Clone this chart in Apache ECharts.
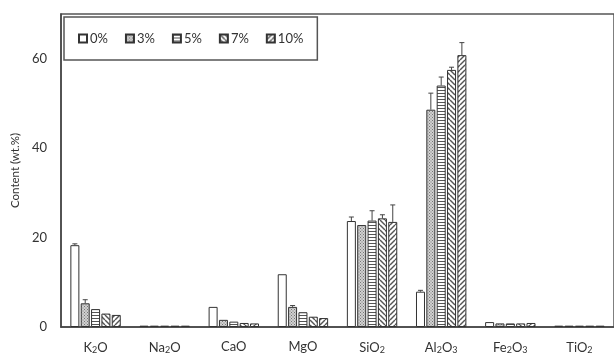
<!DOCTYPE html>
<html><head><meta charset="utf-8">
<script src="https://cdn.jsdelivr.net/npm/echarts@6/dist/echarts.min.js"></script>
<style>html,body{margin:0;padding:0;background:#fff}#c{width:614px;height:355px}</style>
</head><body><div id="c"></div>
<script>
const categories = ['K{s|2}O','Na{s|2}O','CaO','MgO','SiO{s|2}','Al{s|2}O{s|3}','Fe{s|2}O{s|3}','TiO{s|2}'];
const seriesNames = ['0%','3%','5%','7%','10%'];
const v0  = [18.3, 0.3, 4.5, 11.8, 23.7, 7.9, 1.1, 0.3];
const v3  = [5.3, 0.3, 1.6, 4.5, 22.8, 48.6, 0.8, 0.3];
const v5  = [4.0, 0.3, 1.2, 3.3, 23.8, 54.0, 0.8, 0.3];
const v7  = [3.0, 0.3, 0.9, 2.3, 24.3, 57.5, 0.8, 0.3];
const v10 = [2.7, 0.3, 0.8, 2.0, 23.5, 60.8, 0.9, 0.3];
const e0  = [0.3, 0, 0, 0, 0.9, 0.3, 0, 0];
const e3  = [0.8, 0, 0, 0.3, 0, 3.7, 0, 0];
const e5  = [0, 0, 0, 0, 2.2, 1.9, 0, 0];
const e7  = [0, 0, 0, 0, 0.8, 0.6, 0, 0];
const e10 = [0, 0, 0, 0, 3.8, 2.8, 0, 0];
const yTicks = [0, 20, 40, 60];

const values = [v0, v3, v5, v7, v10];
const errors = [e0, e3, e5, e7, e10];

function pat(kind){
  const c = document.createElement('canvas');
  const s = kind==='dots' ? 3 : (kind==='h' ? 3 : 5);
  c.width = s; c.height = s;
  const g = c.getContext('2d');
  g.fillStyle = kind==='dots' ? '#d0d0d0' : '#ffffff';
  g.fillRect(0,0,s,s);
  g.strokeStyle = '#555'; g.fillStyle = '#777';
  if(kind==='dots'){ g.fillRect(0,0,1,1); g.fillRect(1.5,1.5,1,1); }
  if(kind==='h'){ g.fillStyle='#555'; g.fillRect(0,0,s,1); }
  if(kind==='bs' || kind==='fs'){
    g.lineWidth = 1.4;
    for(let o=-s;o<=s;o+=s){
      g.beginPath();
      if(kind==='bs'){ g.moveTo(o,0); g.lineTo(o+s,s); }
      else { g.moveTo(o+s,0); g.lineTo(o,s); }
      g.stroke();
    }
  }
  return {image:c, repeat:'repeat'};
}
const fills = ['#ffffff', pat('dots'), pat('h'), pat('bs'), pat('fs')];

const BW = 9, GAP = 1.35;
const total = 5*BW + 4*GAP;

const series = seriesNames.map((n,i)=>({
  name:n, type:'bar', data: values[i], barWidth: BW, barGap: (GAP/BW*100)+'%',
  itemStyle:{color: fills[i], borderColor:'#333', borderWidth:1},
  emphasis:{disabled:true}
}));

const errData = [];
for(let i=0;i<5;i++) for(let k=0;k<categories.length;k++){
  if(errors[i][k]>0) errData.push([k, values[i][k], values[i][k]+errors[i][k], i]);
}
series.push({
  type:'custom', silent:true, z:5,
  data: errData,
  renderItem:function(params, api){
    const k = api.value(0), lo = api.value(1), hi = api.value(2), si = api.value(3);
    const c = api.coord([k, lo]);
    const t = api.coord([k, hi]);
    const x = c[0] - total/2 + si*(BW+GAP) + BW/2;
    const st = {stroke:'#444', lineWidth:1};
    return {type:'group', children:[
      {type:'line', shape:{x1:x,y1:c[1],x2:x,y2:t[1]}, style:st},
      {type:'line', shape:{x1:x-2.5,y1:t[1],x2:x+2.5,y2:t[1]}, style:st}
    ]};
  }
});

const chart = echarts.init(document.getElementById('c'), null, {renderer:'canvas'});
chart.setOption({
  animation:false,
  textStyle:{fontFamily:'Lato'},
  grid:{left:61, top:14, width:560, bottom:27, show:true, borderColor:'#555', borderWidth:1.5, backgroundColor:'transparent'},
  legend:{
    data: seriesNames, left:64, top:17, padding:[15,14,15,14],
    borderColor:'#555', borderWidth:1.5, itemWidth:8, itemHeight:8, itemGap:17,
    icon:'rect', textStyle:{fontSize:13, color:'#333', fontFamily:'Lato', padding:[0,0,0,-2]}
  },
  xAxis:{
    type:'category', data:categories,
    axisLine:{lineStyle:{color:'#444', width:1.5}}, axisTick:{show:false},
    axisLabel:{interval:0, color:'#333', fontSize:13, margin:13, fontFamily:'Lato',
      rich:{s:{fontSize:9, verticalAlign:'bottom', padding:[6,0,0,0], color:'#333'}}}
  },
  yAxis:{
    type:'value', min:0, max:70, interval:20,
    name:'Content (wt.%)', nameLocation:'middle', nameGap:40, nameRotate:90,
    nameTextStyle:{fontSize:11.5, color:'#333', fontFamily:'Lato'},
    axisLine:{show:true, lineStyle:{color:'#444', width:1.5}}, axisTick:{show:false},
    splitLine:{show:false},
    axisLabel:{color:'#333', fontSize:13, margin:14, showMaxLabel:false,
      formatter: v => yTicks.includes(v) ? String(v) : ''}
  },
  series: series
});
</script></body></html>
